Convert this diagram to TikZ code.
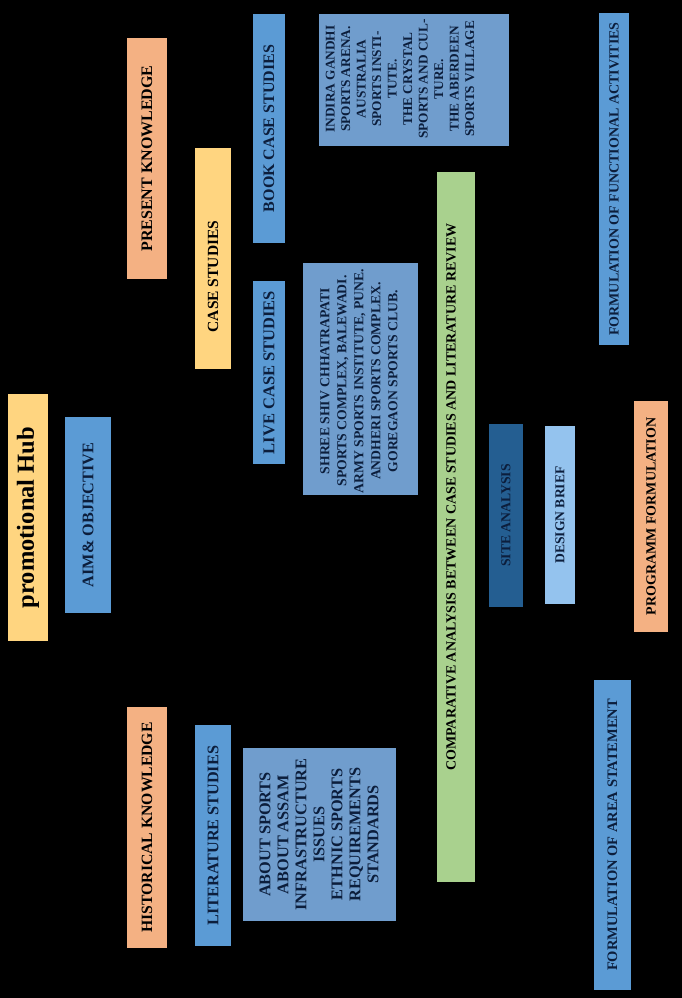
\documentclass[tikz,border=0pt]{standalone}
\usepackage{fontspec}
\setmainfont{Liberation Serif}
\definecolor{salmon}{HTML}{F4B183}
\definecolor{ylw}{HTML}{FFD580}
\definecolor{blu}{HTML}{5B9BD5}
\definecolor{steel}{HTML}{709DCD}
\definecolor{grn}{HTML}{A9D18E}
\definecolor{dkblu}{HTML}{245E91}
\definecolor{ltblu}{HTML}{94C3EE}
\definecolor{navy}{HTML}{0C1E3C}
\newcommand{\myfs}[2]{\fontsize{#1}{#2}\selectfont}
\begin{document}
\begin{tikzpicture}[x=1pt,y=-1pt,
  bx/.style={inner sep=0pt, outer sep=0pt, rotate=90, align=center},
  txt/.style={inner sep=0pt, rotate=90, align=center}]
\fill[black] (0,0) rectangle (682,998);
\useasboundingbox (0,0) rectangle (682,998);

% column 1
\node[bx, fill=ylw, minimum width=247, minimum height=40, text=black, font=\bfseries\myfs{24.5}{27}] (hub) at (28,517.5) {promotional Hub};
\node[bx, fill=blu, minimum width=196, minimum height=46, text=navy, font=\bfseries\myfs{16.2}{18}] (aim) at (88,515) {AIM\& OBJECTIVE};

% knowledge
\node[bx, fill=salmon, minimum width=241, minimum height=40, text=black, font=\bfseries\myfs{16}{18}] (present) at (147,158.5) {PRESENT KNOWLEDGE};
\node[bx, fill=salmon, minimum width=241, minimum height=40, text=black, font=\bfseries\myfs{15.7}{18}] (historical) at (147,827.5) {HISTORICAL KNOWLEDGE};

% studies
\node[bx, fill=ylw, minimum width=221, minimum height=36] (case) at (213,258.5) {};
\node[txt, text=black, font=\bfseries\myfs{15.5}{18}] (casetxt) at (213,276.5) {CASE STUDIES};
\node[bx, fill=blu, minimum width=221, minimum height=36, text=navy, font=\bfseries\myfs{16.2}{18}] (lit) at (213,835.5) {LITERATURE STUDIES};

\node[bx, fill=blu, minimum width=229, minimum height=32, text=navy, font=\bfseries\myfs{16}{18}] (book) at (269,128.5) {BOOK CASE STUDIES};
\node[bx, fill=blu, minimum width=183, minimum height=32, text=navy, font=\bfseries\myfs{16.5}{18}] (live) at (269,372.5) {LIVE CASE STUDIES};

% detail boxes
\node[bx, fill=steel, minimum width=132, minimum height=190] (indira) at (414,80) {};
\node[txt, text=navy, font=\bfseries\myfs{13.3}{15.5}] (indiratxt) at (400,79) {INDIRA GANDHI\\SPORTS ARENA.\\AUSTRALIA\\SPORTS INSTI-\\TUTE.\\THE CRYSTAL\\SPORTS AND CUL-\\TURE.\\THE ABERDEEN\\SPORTS VILLAGE};

\node[bx, fill=steel, minimum width=232, minimum height=115] (shree) at (360.5,379) {};
\node[txt, text=navy, font=\bfseries\myfs{13.7}{17}] (shreetxt) at (359,381) {SHREE SHIV CHHATRAPATI\\SPORTS COMPLEX, BALEWADI.\\ARMY SPORTS INSTITUTE, PUNE.\\ANDHERI SPORTS COMPLEX.\\GOREGAON SPORTS CLUB.};

\node[bx, fill=steel, minimum width=173, minimum height=153] (about) at (319.5,834.5) {};
\node[txt, text=navy, font=\bfseries\myfs{16.3}{18}] (abouttxt) at (319,834.5) {ABOUT SPORTS\\ABOUT ASSAM\\INFRASTRUCTURE\\ISSUES\\ETHNIC SPORTS\\REQUIREMENTS\\STANDARDS};

% comparative
\node[bx, fill=grn, minimum width=710, minimum height=38] (comp) at (456,527) {};
\node[txt, text=black, font=\bfseries\myfs{14}{16}] (comptxt) at (451,497) {COMPARATIVE ANALYSIS BETWEEN CASE STUDIES AND LITERATURE REVIEW};

% site / design
\node[bx, fill=dkblu, minimum width=183, minimum height=34, text=navy, font=\bfseries\myfs{13.7}{15}] (site) at (506,515.5) {SITE ANALYSIS};
\node[bx, fill=ltblu, minimum width=178, minimum height=30, text=navy, font=\bfseries\myfs{13.6}{15}] (design) at (560,515) {DESIGN BRIEF};

% formulation
\node[bx, fill=blu, minimum width=332, minimum height=30, text=navy, font=\bfseries\myfs{14}{16}] (func) at (614,179) {FORMULATION OF FUNCTIONAL ACTIVITIES};
\node[bx, fill=salmon, minimum width=231, minimum height=34, text=black, font=\bfseries\myfs{14}{16}] (prog) at (651,516.5) {PROGRAMM FORMULATION};
\node[bx, fill=blu, minimum width=310, minimum height=37, text=navy, font=\bfseries\myfs{14.5}{16}] (area) at (612.5,835) {FORMULATION OF AREA STATEMENT};
\end{tikzpicture}
\end{document}
